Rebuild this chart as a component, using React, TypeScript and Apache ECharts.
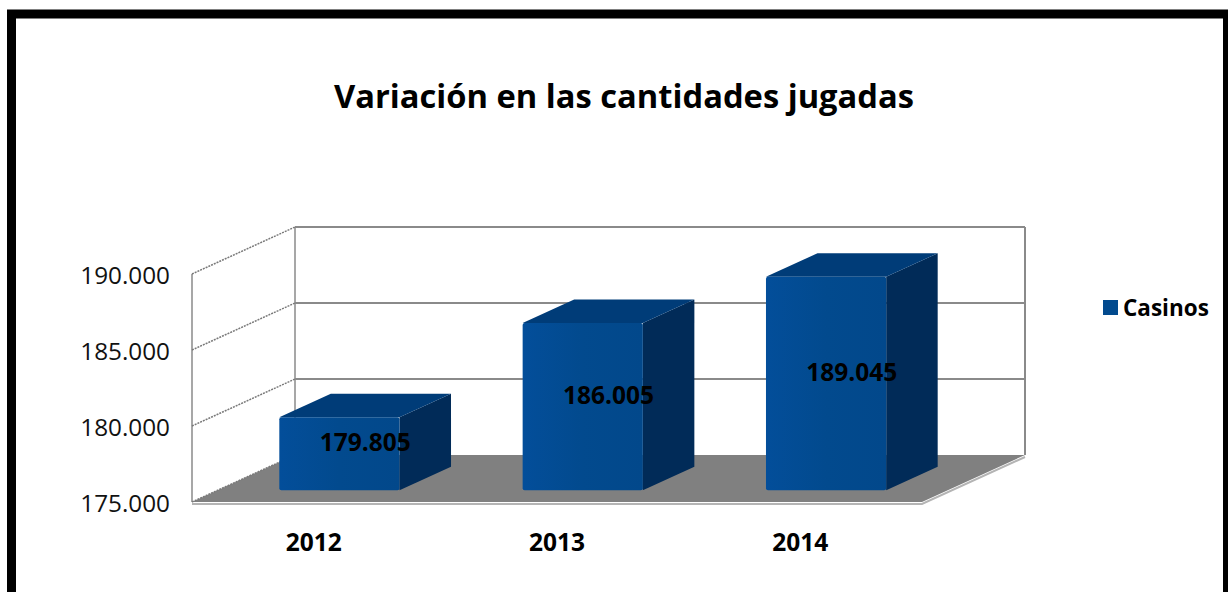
import React, { useEffect, useRef } from "react";
import * as echarts from "echarts";

const categories = ["2012", "2013", "2014"];
const casinos = [179805, 186005, 189045];
const yTicks = [175000, 180000, 185000, 190000];
const seriesName = "Casinos";
const titleText = "Variación en las cantidades jugadas";

const FONT = "'Open Sans', 'Noto Sans', sans-serif";
const DX = 103;
const DY = -47;
const BAR_FRONT = 0.25;
const BAR_BACK = 0.75;

const fmt = (v: number) => String(Math.round(v)).replace(/\B(?=(\d{3})+(?!\d))/g, ".");

export default function App() {
  const ref = useRef<HTMLDivElement>(null);
  useEffect(() => {
    const chart = echarts.init(ref.current!, null, { renderer: "svg" });
    const wallColor = "#8a8a8a";
    const option: any = {
      animation: false,
      backgroundColor: "#ffffff",
      title: {
        text: titleText,
        left: 329,
        top: 74,
        textStyle: { fontFamily: FONT, fontSize: 32.7, fontWeight: "bold", color: "#000" },
      },
      legend: {
        data: [seriesName],
        left: 1098,
        top: 291,
        icon: "rect",
        itemWidth: 15,
        itemHeight: 15,
        itemGap: 8,
        selectedMode: false,
        textStyle: { fontFamily: FONT, fontSize: 22.5, fontWeight: "bold", color: "#000" },
      },
      grid: { left: 192, top: 274, width: 730, height: 228 },
      xAxis: {
        type: "category",
        data: categories,
        axisLine: { show: false },
        axisTick: { show: false },
        splitLine: { show: false },
        axisLabel: { margin: 27, fontFamily: FONT, fontSize: 24.5, fontWeight: "bold", color: "#000" },
      },
      yAxis: {
        type: "value",
        min: 175000,
        max: 190000,
        interval: 5000,
        axisLine: { show: false },
        axisTick: { show: false },
        splitLine: { show: false },
        axisLabel: {
          margin: 22,
          fontFamily: FONT,
          fontSize: 24.3,
          color: "#111",
          formatter: (v: number) => fmt(v),
        },
      },
      graphic: [
        {
          type: "rect",
          silent: true,
          z: 100,
          shape: { x: 11.5, y: 14, width: 1216, height: 620 },
          style: { fill: "none", stroke: "#000", lineWidth: 9 },
        },
      ],
      series: [
        {
          type: "custom",
          name: "__walls",
          silent: true,
          clip: false,
          z: 1,
          data: yTicks.map((t) => [0, t]),
          renderItem: (params: any, api: any) => {
            const cs = params.coordSys;
            const x0 = cs.x;
            const x1 = cs.x + cs.width;
            const t = api.value(1);
            const y = api.coord([0, t])[1];
            const children: any[] = [];
            if (params.dataIndex === 0) {
              const yTop = api.coord([0, yTicks[yTicks.length - 1]])[1];
              children.push({
                type: "polygon",
                shape: { points: [[x0, y], [x1, y], [x1 + DX, y + DY], [x0 + DX, y + DY]] },
                style: { fill: "#808080" },
              });
              children.push({
                type: "polyline",
                shape: { points: [[x0, y + 2], [x1, y + 2], [x1 + DX, y + DY + 2]] },
                style: { stroke: "#b4b4b4", lineWidth: 2, fill: "none" },
              });
              children.push({
                type: "line",
                shape: { x1: x0, y1: yTop, x2: x0, y2: y },
                style: { stroke: wallColor, lineWidth: 1.5 },
              });
              children.push({
                type: "line",
                shape: { x1: x0 + DX, y1: yTop + DY, x2: x0 + DX, y2: y + DY },
                style: { stroke: wallColor, lineWidth: 1.5 },
              });
              children.push({
                type: "line",
                shape: { x1: x1 + DX, y1: yTop + DY, x2: x1 + DX, y2: y + DY },
                style: { stroke: wallColor, lineWidth: 2 },
              });
            } else {
              children.push({
                type: "line",
                shape: { x1: x0 + DX, y1: y + DY, x2: x1 + DX, y2: y + DY },
                style: { stroke: wallColor, lineWidth: 2 },
              });
            }
            children.push({
              type: "line",
              shape: { x1: x0, y1: y, x2: x0 + DX, y2: y + DY },
              style: { stroke: "#7a7a7a", lineWidth: 1.5, lineDash: [2, 1] },
            });
            return { type: "group", children };
          },
        },
        {
          type: "custom",
          name: seriesName,
          clip: false,
          z: 3,
          itemStyle: { color: "#024A8E" },
          data: casinos.map((v, i) => [i, v]),
          renderItem: (params: any, api: any) => {
            const i = api.value(0);
            const v = api.value(1);
            const base = api.coord([i, 175000]);
            const top = api.coord([i, v]);
            const bandW = api.size([1, 0])[0];
            const hw = bandW * 0.247;
            const fx = base[0] + DX * BAR_FRONT;
            const fdy = DY * BAR_FRONT;
            const bdx = DX * (BAR_BACK - BAR_FRONT);
            const bdy = DY * (BAR_BACK - BAR_FRONT);
            const L = fx - hw;
            const R = fx + hw;
            const T = top[1] + fdy;
            const B = base[1] + fdy;
            const children: any[] = [
              {
                type: "polygon",
                shape: { points: [[R, T], [R + bdx, T + bdy], [R + bdx, B + bdy], [R, B]] },
                style: { fill: "#012B58" },
              },
              {
                type: "polygon",
                shape: { points: [[L, T], [R, T], [R + bdx, T + bdy], [L + bdx, T + bdy]] },
                style: { fill: "#003C78" },
              },
              {
                type: "rect",
                shape: { x: L, y: T, width: R - L, height: B - T, r: 2 },
                style: {
                  fill: new echarts.graphic.LinearGradient(0, 0, 1, 0, [
                    { offset: 0, color: "#034E9A" },
                    { offset: 0.5, color: "#024A8E" },
                    { offset: 1, color: "#02488B" },
                  ]),
                },
              },
              {
                type: "text",
                z2: 10,
                style: {
                  x: base[0] + DX * 0.5,
                  y: (top[1] + base[1]) / 2 + DY * 0.5,
                  text: fmt(v),
                  align: "center",
                  verticalAlign: "middle",
                  fontFamily: FONT,
                  fontSize: 24.5,
                  fontWeight: "bold",
                  fill: "#000",
                },
              },
            ];
            return { type: "group", children };
          },
        },
      ],
    };
    chart.setOption(option);
    return () => chart.dispose();
  }, []);
  return (
    <div
      ref={ref}
      style={{ position: "fixed", left: 0, top: 0, width: 1228, height: 592 }}
    />
  );
}
